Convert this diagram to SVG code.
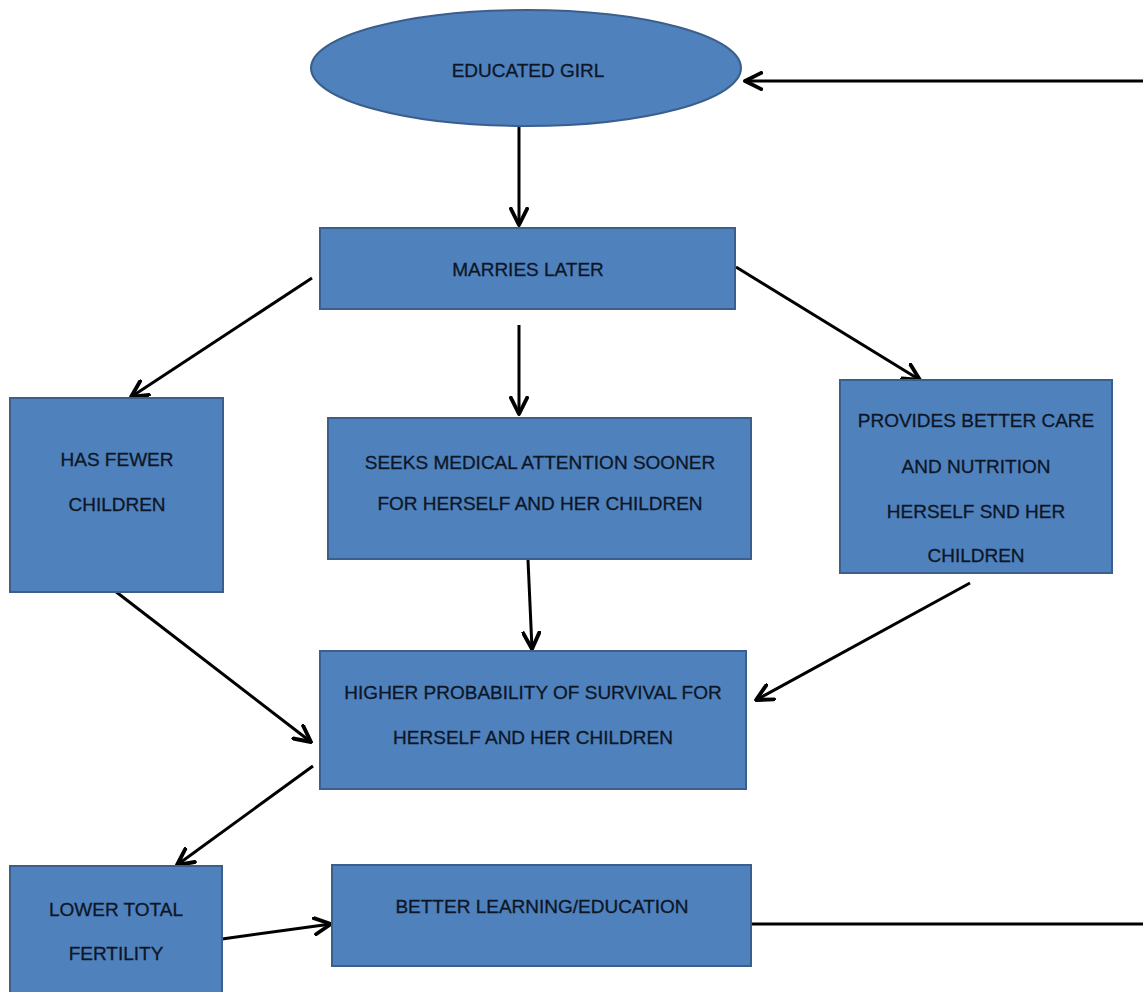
<svg xmlns="http://www.w3.org/2000/svg" width="1143" height="992" viewBox="0 0 1143 992">
<style>
.n{fill:#4f81bd;stroke:#3b5f8d;stroke-width:2}
.t{font-family:"Liberation Sans",Arial,sans-serif;font-size:19px;fill:#0d1626;text-anchor:middle;stroke:#0d1626;stroke-width:0.3}
.c{stroke:#000;stroke-width:3;fill:none}
.a{marker-end:url(#ah)}
</style>
<defs>
<marker id="ah" viewBox="0 0 12 12" refX="11" refY="6" markerWidth="6.5" markerHeight="6.5" orient="auto" markerUnits="strokeWidth">
<path d="M1,1 L11,6 L1,11" fill="none" stroke="#000" stroke-width="2.4" stroke-linecap="round" stroke-linejoin="round"/>
</marker>
</defs>
<rect width="1143" height="992" fill="#fff"/>
<g id="connectors">
<line class="c a" x1="1143" y1="81" x2="745" y2="81"/>
<line class="c a" x1="519" y1="127" x2="519" y2="225"/>
<line class="c a" x1="312" y1="278" x2="131" y2="397"/>
<line class="c a" x1="519" y1="325" x2="519" y2="414"/>
<line class="c a" x1="736" y1="267" x2="920" y2="380"/>
<line class="c a" x1="115" y1="591" x2="311" y2="742"/>
<line class="c a" x1="528" y1="560" x2="532" y2="649"/>
<line class="c a" x1="970" y1="583" x2="756" y2="700"/>
<line class="c a" x1="313" y1="766" x2="177" y2="865"/>
<line class="c a" x1="222" y1="939" x2="331" y2="924"/>
<line class="c" x1="751" y1="924" x2="1143" y2="924"/>
</g>
<g id="educated-girl">
<ellipse class="n" cx="526" cy="68" rx="215" ry="58"/>
<text class="t" x="528" y="77">EDUCATED GIRL</text>
</g>
<g id="marries-later">
<rect class="n" x="320" y="228" width="415" height="81"/>
<text class="t" x="528" y="276">MARRIES LATER</text>
</g>
<g id="has-fewer-children">
<rect class="n" x="10" y="398" width="213" height="194"/>
<text class="t" x="117" y="466">HAS FEWER</text>
<text class="t" x="117" y="511">CHILDREN</text>
</g>
<g id="seeks-medical">
<rect class="n" x="328" y="418" width="423" height="141"/>
<text class="t" x="540" y="469">SEEKS MEDICAL ATTENTION SOONER</text>
<text class="t" x="540" y="510">FOR HERSELF AND HER CHILDREN</text>
</g>
<g id="provides-better-care">
<rect class="n" x="840" y="380" width="272" height="193"/>
<text class="t" x="976" y="427">PROVIDES BETTER CARE</text>
<text class="t" x="976" y="473">AND NUTRITION</text>
<text class="t" x="976" y="518">HERSELF SND HER</text>
<text class="t" x="976" y="562">CHILDREN</text>
</g>
<g id="higher-probability">
<rect class="n" x="320" y="651" width="426" height="138"/>
<text class="t" x="533" y="699">HIGHER PROBABILITY OF SURVIVAL FOR</text>
<text class="t" x="533" y="744">HERSELF AND HER CHILDREN</text>
</g>
<g id="lower-total-fertility">
<rect class="n" x="10" y="866" width="212" height="130"/>
<text class="t" x="116" y="916">LOWER TOTAL</text>
<text class="t" x="116" y="960">FERTILITY</text>
</g>
<g id="better-learning">
<rect class="n" x="332" y="865" width="419" height="101"/>
<text class="t" x="542" y="913">BETTER LEARNING/EDUCATION</text>
</g>
</svg>
